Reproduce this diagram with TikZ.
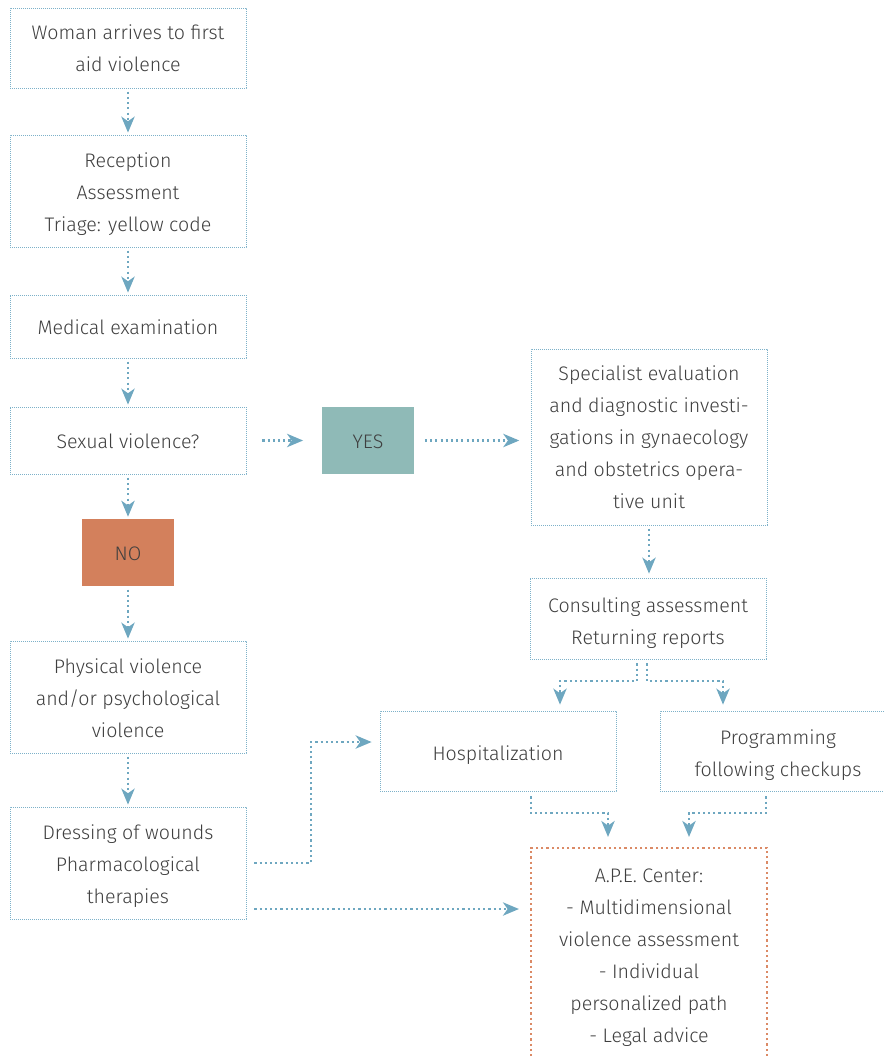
\documentclass[tikz,border=0pt]{standalone}
\usepackage{fontspec}
\setmainfont{Fira Sans Light}
\usetikzlibrary{arrows.meta,calc}

\definecolor{txtgrey}{HTML}{3F3F3F}
\definecolor{boxblue}{HTML}{7DB1C9}
\definecolor{arrblue}{HTML}{6EA7C0}
\definecolor{nofill}{HTML}{D3805C}
\definecolor{yesfill}{HTML}{8FBAB7}
\definecolor{apeorange}{HTML}{DB8A66}

% centred block of lines with fixed line pitch; optional argument lowers the text
\newcommand{\boxlines}[2][1.5pt]{%
  \raisebox{-#1}[\height][\depth]{\begin{tabular}{@{}c@{}}#2\end{tabular}}}

\tikzset{
  every node/.style={font=\fontsize{14.7pt}{24pt}\selectfont, text=txtgrey, inner sep=0pt},
  stepbox/.style={draw=boxblue, line width=0.6pt, dash pattern=on 0.6pt off 0.9pt,
    minimum width=177pt},
  answer/.style={minimum width=69pt, minimum height=50.25pt},
  apebox/.style={draw=apeorange, line width=1.6pt, dash pattern=on 1.6pt off 2.3pt,
    minimum width=177pt, minimum height=174pt},
  arr/.style={draw=arrblue, line width=1.6pt, dash pattern=on 1.6pt off 2.3pt,
    -{Stealth[length=12pt, width=10pt, inset=3.5pt, fill=arrblue]}}
}

\begin{document}
\begin{tikzpicture}[x=0.75pt, y=-0.75pt]
\useasboundingbox (0,0) rectangle (883,1056);

% left column
\node[stepbox, minimum height=60pt] (b1) at (128,48) {\boxlines[0.75pt]{Woman arrives to first\\aid violence}};
\node[stepbox, minimum height=84pt] (b2) at (128,191) {\boxlines{Reception\\Assessment\\Triage: yellow code}};
\node[stepbox, minimum height=47.25pt] (b3) at (128,326.5) {\boxlines{Medical examination}};
\node[stepbox, minimum height=50.25pt] (b4) at (128,440.5) {\boxlines{Sexual violence?}};
\node[answer, fill=nofill] (no) at (128,552.5) {\boxlines{NO}};
\node[stepbox, minimum height=84pt] (b6) at (128,697) {\boxlines{Physical violence\\and/or psychological\\violence}};
\node[stepbox, minimum height=84pt] (b7) at (128,863) {\boxlines{Dressing of wounds\\Pharmacological\\therapies}};

% right side
\node[answer, fill=yesfill] (yes) at (368,440.5) {\boxlines{YES}};
\node[stepbox, minimum height=132pt] (spec) at (649,437)
  {\boxlines[0.75pt]{Specialist evaluation\\and diagnostic investi-\\gations in gynaecology\\and obstetrics opera-\\tive unit}};
\node[stepbox, minimum height=60.75pt] (cons) at (648,618.5) {\boxlines[2.6pt]{Consulting assessment\\Returning reports}};
\node[stepbox, minimum height=60pt] (hosp) at (498,751) {\boxlines[2.25pt]{Hospitalization}};
\node[stepbox, minimum height=60pt] (prog) at (778,751) {\boxlines[2.25pt]{Programming\\following checkups}};

% A.P.E. center (box runs past the lower edge)
\node[apebox] (ape) at (649,964) {};
\node (apetext) at (649,954.5) {\boxlines{A.P.E. Center:\\- Multidimensional\\violence assessment\\- Individual\\personalized path\\- Legal advice}};

% vertical flow on the left
\draw[arr, shorten <=2.5pt, shorten >=1.5pt] (b1) -- (b2);
\draw[arr, shorten <=2.5pt, shorten >=1.5pt] (b2) -- (b3);
\draw[arr, shorten <=2.5pt, shorten >=1.5pt] (b3) -- (b4);
\draw[arr, shorten <=2.5pt, shorten >=1.5pt] (b4) -- (no);
\draw[arr, shorten <=2.5pt, shorten >=1.5pt] (no) -- (b6);
\draw[arr, shorten <=2.5pt, shorten >=1.5pt] (b6) -- (b7);

% yes branch
\draw[arr, shorten <=12pt, shorten >=14pt] (b4) -- (yes);
\draw[arr, shorten <=8pt, shorten >=8.5pt] (yes) -- (yes -| spec.west);
\draw[arr, shorten <=2.5pt, shorten >=3pt] (spec.south) -- (spec.south |- cons.north);

% split below the consulting box
\draw[arr] ($(cons.south)+(-11,4)$) -- ++(0,18) -| ($(hosp.north)+(62,-6)$);
\draw[arr] ($(cons.south)+(-1,4)$) -- ++(0,18) -| ($(prog.north)+(-55,-6)$);

% into the A.P.E. center
\draw[arr] ($(hosp.south)+(33,5)$) -- ++(0,17) -| ($(ape.north)+(-41,-10)$);
\draw[arr] ($(prog.south)+(-12,5)$) -- ++(0,17) -| ($(ape.north)+(40,-10)$);

% from wound care
\coordinate (j1) at (311,742);
\draw[arr] ($(b7.east)+(8,0)$) -| (j1) -- ($(hosp.west |- j1)+(-8,0)$);
\draw[arr] ($(b7.east)+(8,46)$) -- ($(ape.west |- b7.east)+(-11,46)$);
\end{tikzpicture}
\end{document}
